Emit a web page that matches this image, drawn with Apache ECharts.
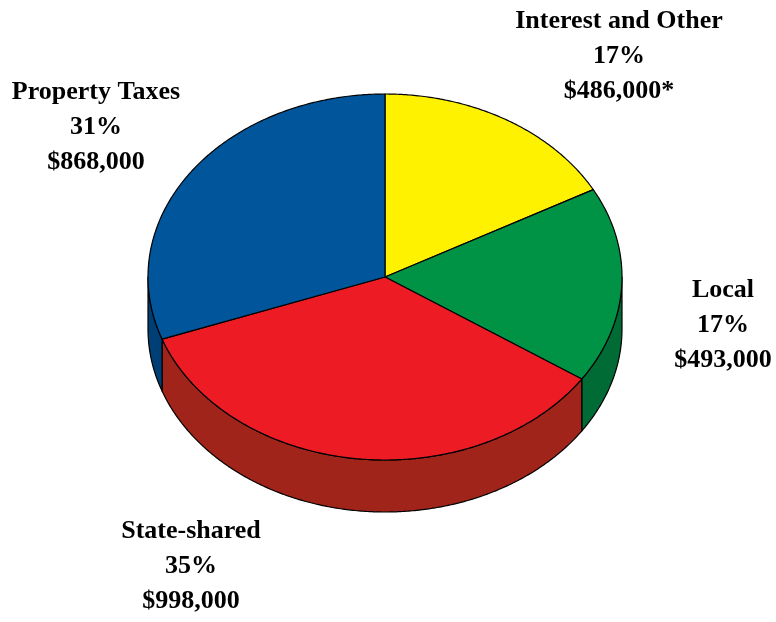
<!DOCTYPE html>
<html><head><meta charset="utf-8">
<script src="https://cdn.jsdelivr.net/npm/echarts@6/dist/echarts.min.js"></script>
<style>html,body{margin:0;padding:0;background:#fff}#c{width:776px;height:622px}</style>
</head><body><div id="c"></div>
<script>
// Data (values in thousands of dollars)
const categories = ['Interest and Other', 'Local', 'State-shared', 'Property Taxes'];
const values = [486, 493, 998, 868];
const valueNotes = ['*', '', '', ''];

// Styles / layout
const topColors = ['#FFF200', '#009245', '#ED1C24', '#00559B'];
const sideColors = ['#B3A900', '#006B35', '#A0241A', '#003F75'];
const labelPos = [[619, 56], [723, 325], [191, 566], [96, 127]];
const CX = 385, CY = 277, RX = 237, RY = 183, DEPTH = 52;

const total = values.reduce((a, b) => a + b, 0);
const angles = [];
let acc = 0;
values.forEach(v => {
  const a0 = 90 - acc / total * 360;
  acc += v;
  const a1 = 90 - acc / total * 360;
  angles.push([a0, a1]);
});
function pt(deg, dy) {
  const r = deg * Math.PI / 180;
  return [CX + RX * Math.cos(r), CY - RY * Math.sin(r) + (dy || 0)];
}
function arc(a0, a1, dy) {
  const pts = [];
  const n = Math.max(2, Math.ceil(Math.abs(a0 - a1) / 0.5));
  for (let i = 0; i <= n; i++) pts.push(pt(a0 + (a1 - a0) * i / n, dy));
  return pts;
}
function fmtMoney(v) {
  return '$' + (v * 1000).toLocaleString('en-US');
}

const chart = echarts.init(document.getElementById('c'), null, {renderer: 'canvas'});
const seriesData = categories.map((c, i) => ({name: c, value: values[i]}));

chart.setOption({
  animation: false,
  backgroundColor: '#ffffff',
  series: [
    {
      type: 'custom',
      coordinateSystem: 'none',
      z: 1,
      data: seriesData,
      renderItem: function (params, api) {
        const i = params.dataIndex;
        const hi = angles[i][0], lo = angles[i][1];
        const children = [];
        // front half intervals (where sin < 0)
        const fronts = [[-180, 0], [-540, -360], [180, 360]];
        fronts.forEach(f => {
          const a = Math.max(lo, f[0]);
          const b = Math.min(hi, f[1]);
          if (b - a > 0.01) {
            const pts = arc(b, a, 0).concat(arc(a, b, DEPTH));
            children.push({
              type: 'polygon',
              shape: {points: pts},
              style: {fill: sideColors[i], stroke: '#000', lineWidth: 1.2, lineJoin: 'round'}
            });
          }
        });
        return {type: 'group', children: children};
      }
    },
    {
      type: 'custom',
      coordinateSystem: 'none',
      z: 2,
      data: seriesData,
      renderItem: function (params, api) {
        const i = params.dataIndex;
        const v = api.value(0);
        const pts = [[CX, CY]].concat(arc(angles[i][0], angles[i][1], 0));
        const pct = Math.round(v / total * 100);
        return {
          type: 'group',
          children: [
            {
              type: 'polygon',
              shape: {points: pts},
              style: {fill: topColors[i], stroke: '#000', lineWidth: 1.2, lineJoin: 'round'}
            },
            {
              type: 'text',
              style: {
                text: categories[i] + '\n' + pct + '%\n' + fmtMoney(v) + valueNotes[i],
                x: labelPos[i][0],
                y: labelPos[i][1],
                align: 'center',
                verticalAlign: 'middle',
                font: 'bold 26px "Liberation Serif", "Times New Roman", serif',
                lineHeight: 35,
                fill: '#000'
              }
            }
          ]
        };
      }
    }
  ]
});
</script>
</body></html>
